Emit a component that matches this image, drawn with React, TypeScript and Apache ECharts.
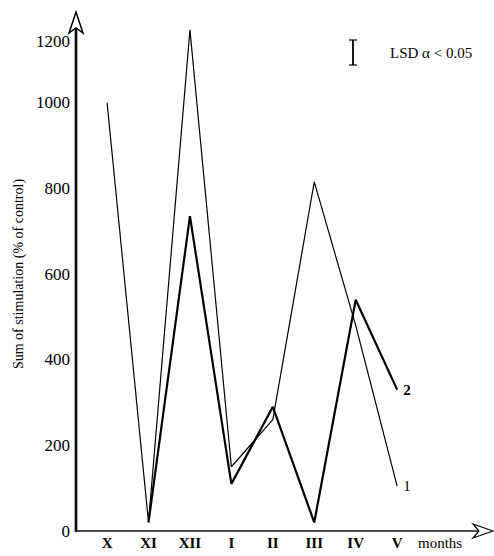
import React, { useEffect, useRef } from "react";
import * as echarts from "echarts";

const months = ["X", "XI", "XII", "I", "II", "III", "IV", "V"];
const series1 = [1000, 20, 1170, 150, 260, 815, 480, 105];
const series2 = [null, 20, 735, 110, 290, 20, 540, 330];
const yTicks = [0, 200, 400, 600, 800, 1000, 1200];
const seriesNames = ["1", "2"];

const FONT = "'Liberation Serif', 'DejaVu Serif', serif";

export default function App() {
  const ref = useRef<HTMLDivElement>(null);
  useEffect(() => {
    if (!ref.current) return;
    const chart = echarts.init(ref.current, undefined, { renderer: "svg" });
    const yMax = yTicks[yTicks.length - 1];
    chart.setOption({
      animation: false,
      backgroundColor: "#ffffff",
      grid: { left: 76, right: 14, top: 17, bottom: 25, containLabel: false },
      xAxis: {
        type: "value",
        min: -0.75,
        max: 9,
        splitLine: { show: false },
        axisTick: { show: false },
        axisLine: { show: true, onZero: false, lineStyle: { color: "#111", width: 1.5 } },
        axisLabel: {
          customValues: months.map((_, i) => i),
          formatter: (v: number) => months[Math.round(v)] ?? "",
          color: "#000",
          fontFamily: FONT,
          fontWeight: "bold",
          fontSize: 15,
          margin: 4,
        },
        name: "months",
        nameLocation: "end",
        nameGap: -62,
        nameTextStyle: {
          color: "#000",
          fontFamily: FONT,
          fontSize: 15,
          align: "left",
          verticalAlign: "top",
          padding: [4, 0, 0, 0],
        },
      },
      yAxis: {
        type: "value",
        position: "left",
        min: 0,
        max: yMax,
        interval: 200,
        splitLine: { show: false },
        axisTick: { show: false },
        axisLine: { show: true, onZero: false, lineStyle: { color: "#111111", width: 2.4 } },
        axisLabel: {
          formatter: (v: number) => (v === yMax ? "" : String(v)),
          color: "#000",
          fontFamily: FONT,
          fontSize: 17,
          margin: 6,
        },
        name: "Sum of stimulation (% of control)",
        nameLocation: "middle",
        nameGap: 50,
        nameTextStyle: { color: "#000", fontFamily: FONT, fontSize: 14 },
      },
      series: [
        {
          name: seriesNames[0],
          type: "line",
          data: months.map((_, i) => [i, series1[i]]),
          symbol: "none",
          lineStyle: { color: "#000", width: 1.2 },
          endLabel: {
            show: true,
            formatter: seriesNames[0],
            color: "#000",
            fontFamily: FONT,
            fontSize: 15,
            distance: 6,
          },
        },
        {
          name: seriesNames[1],
          type: "line",
          data: months.map((_, i) => [i, series2[i]]),
          symbol: "none",
          connectNulls: false,
          lineStyle: { color: "#000", width: 2.2 },
          endLabel: {
            show: true,
            formatter: seriesNames[1],
            color: "#000",
            fontFamily: FONT,
            fontSize: 15,
            fontWeight: "bold",
            distance: 6,
          },
        },
      ],
      graphic: [
        {
          type: "rect",
          z: 1000,
          shape: { x: 74.8, y: 28, width: 2.4, height: 503 },
          style: { fill: "#111111" },
        },
        {
          type: "polygon",
          z: 100,
          shape: { points: [[76, 12], [83, 33], [76, 28], [69, 33]] },
          style: { fill: "#fff", stroke: "#000", lineWidth: 1.5 },
        },
        {
          type: "polygon",
          z: 100,
          shape: { points: [[493, 531], [473, 524], [479, 531], [473, 538]] },
          style: { fill: "#fff", stroke: "#000", lineWidth: 1.2 },
        },
        {
          type: "text",
          z: 100,
          style: {
            text: String(yMax),
            x: 70,
            y: 41,
            align: "right",
            verticalAlign: "middle",
            fill: "#000",
            font: `17px ${FONT}`,
          },
        },
        {
          type: "line",
          z: 100,
          shape: { x1: 353, y1: 40, x2: 353, y2: 65 },
          style: { stroke: "#000", lineWidth: 1.8 },
        },
        {
          type: "line",
          z: 100,
          shape: { x1: 349, y1: 40, x2: 357, y2: 40 },
          style: { stroke: "#000", lineWidth: 1.2 },
        },
        {
          type: "line",
          z: 100,
          shape: { x1: 349, y1: 65, x2: 357, y2: 65 },
          style: { stroke: "#000", lineWidth: 1.2 },
        },
        {
          type: "text",
          z: 100,
          style: {
            text: "LSD α < 0.05",
            x: 390,
            y: 53,
            align: "left",
            verticalAlign: "middle",
            fill: "#000",
            font: `15px ${FONT}`,
          },
        },
      ],
    });
    return () => chart.dispose();
  }, []);
  return (
    <div
      ref={ref}
      style={{ position: "fixed", left: 0, top: 0, width: 494, height: 556, background: "#fff" }}
    />
  );
}
